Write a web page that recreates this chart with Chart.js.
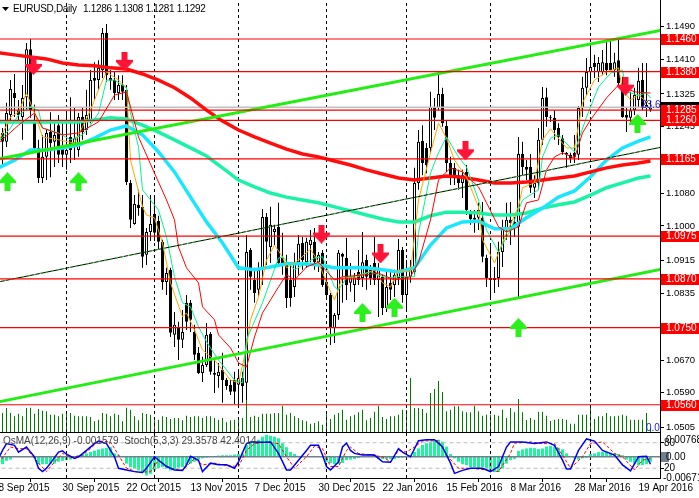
<!DOCTYPE html>
<html>
<head>
<meta charset="utf-8">
<title>EURUSD Daily</title>
<script src="https://cdn.jsdelivr.net/npm/chart.js@4/dist/chart.umd.js"></script>
<style>
  html, body { margin: 0; padding: 0; background: #fff; overflow: hidden; width: 699px; height: 498px; }
  canvas { position: absolute; left: -4px; }
  #mainChart { top: 0; }
  #oscChart { top: 432px; }
</style>
</head>
<body>
<canvas id="mainChart" width="703" height="432"></canvas>
<canvas id="oscChart" width="703" height="66"></canvas>
<script>
// candles, one per bar
const opens = [1.1285,1.1229,1.1207,1.1273,1.1327,1.1285,1.1268,1.1317,1.1435,1.1261,1.1192,1.1118,1.1170,1.1231,1.1207,1.1248,1.1192,1.1175,1.1219,1.1194,
  1.1187,1.1268,1.1236,1.1261,1.1364,1.1359,1.1384,1.1475,1.1364,1.1359,1.1327,1.1347,1.1335,1.1106,1.1005,1.1052,1.1047,1.0929,1.0985,1.1030,
  1.1012,1.0961,1.0862,1.0892,1.0732,1.0749,1.0720,1.0811,1.0811,1.0739,1.0688,1.0638,1.0658,1.0734,1.0638,1.0631,1.0646,1.0621,1.0609,1.0621,
  1.0609,1.0626,1.0614,1.0941,1.0867,1.0843,1.0892,1.1022,1.0948,1.0985,1.0998,1.0921,1.0911,1.0867,1.0850,1.0911,1.0958,1.0911,1.0953,1.0961,
  1.0911,1.0934,1.0862,1.0830,1.0749,1.0781,1.0931,1.0921,1.0860,1.0855,1.0887,1.0872,1.0916,1.0892,1.0909,1.0867,1.0875,1.0798,1.0860,1.0855,
  1.0872,1.0941,1.0830,1.0875,1.0887,1.1106,1.1209,1.1192,1.1192,1.1293,1.1290,1.1325,1.1246,1.1155,1.1143,1.1125,1.1106,1.1133,1.1032,1.1020,
  1.1020,1.1020,1.0921,1.0872,1.0872,1.0872,1.0936,1.0995,1.1015,1.1010,1.0998,1.1177,1.1145,1.1145,1.1094,1.1106,1.1212,1.1317,1.1268,1.1266,
  1.1241,1.1216,1.1180,1.1175,1.1180,1.1175,1.1290,1.1340,1.1379,1.1401,1.1379,1.1379,1.1401,1.1401,1.1384,1.1408,1.1352,1.1273,1.1266,1.1285,
  1.1310,1.1359,1.1298,1.1286];
const highs = [1.1310,1.1241,1.1303,1.1359,1.1374,1.1310,1.1347,1.1450,1.1460,1.1298,1.1212,1.1224,1.1236,1.1280,1.1253,1.1273,1.1253,1.1278,1.1317,1.1290,
  1.1278,1.1293,1.1335,1.1384,1.1403,1.1408,1.1487,1.1497,1.1384,1.1379,1.1371,1.1371,1.1347,1.1113,1.1076,1.1089,1.1076,1.0995,1.1076,1.1076,
  1.1025,1.0966,1.0897,1.0897,1.0788,1.0764,1.0793,1.0830,1.0818,1.0757,1.0702,1.0678,1.0761,1.0739,1.0670,1.0663,1.0688,1.0626,1.0621,1.0641,
  1.0646,1.0641,1.0978,1.0946,1.0897,1.0911,1.1042,1.1032,1.1047,1.1003,1.1057,1.0983,1.0929,1.0911,1.0934,1.0978,1.0973,1.0971,1.0990,1.0995,
  1.0936,1.0941,1.0880,1.0835,1.0786,1.0941,1.0934,1.0971,1.0909,1.0884,1.0941,1.0985,1.0929,1.0904,1.0973,1.0909,1.0880,1.0892,1.0887,1.0892,
  1.0968,1.0948,1.0916,1.0916,1.1143,1.1236,1.1248,1.1204,1.1330,1.1315,1.1376,1.1340,1.1261,1.1170,1.1155,1.1138,1.1138,1.1150,1.1039,1.1039,
  1.1057,1.1059,1.0929,1.0958,1.0899,1.0961,1.1015,1.1057,1.1059,1.1022,1.1219,1.1207,1.1162,1.1177,1.1125,1.1241,1.1342,1.1340,1.1273,1.1285,
  1.1253,1.1224,1.1182,1.1180,1.1224,1.1295,1.1367,1.1413,1.1438,1.1421,1.1416,1.1433,1.1458,1.1458,1.1426,1.1463,1.1367,1.1290,1.1330,1.1340,
  1.1389,1.1401,1.1401,1.1308];
const lows = [1.1212,1.1145,1.1194,1.1253,1.1268,1.1253,1.1212,1.1285,1.1266,1.1182,1.1106,1.1106,1.1113,1.1120,1.1145,1.1155,1.1145,1.1138,1.1155,1.1162,
  1.1170,1.1212,1.1224,1.1253,1.1310,1.1335,1.1364,1.1354,1.1335,1.1310,1.1310,1.1310,1.1101,1.0995,1.1003,1.1025,1.0897,1.0904,1.0963,1.0963,
  1.0941,1.0843,1.0830,1.0727,1.0702,1.0670,1.0700,1.0744,1.0739,1.0670,1.0636,1.0616,1.0653,1.0634,1.0589,1.0602,1.0565,1.0597,1.0584,1.0562,
  1.0560,1.0565,1.0572,1.0843,1.0811,1.0828,1.0855,1.0904,1.0909,1.0953,1.0899,1.0880,1.0798,1.0801,1.0825,1.0880,1.0892,1.0897,1.0911,1.0892,
  1.0887,1.0850,1.0818,1.0707,1.0712,1.0769,1.0811,1.0818,1.0838,1.0813,1.0855,1.0850,1.0843,1.0855,1.0855,1.0776,1.0781,1.0788,1.0818,1.0825,
  1.0855,1.0811,1.0793,1.0860,1.0880,1.1089,1.1125,1.1130,1.1180,1.1236,1.1285,1.1244,1.1133,1.1101,1.1101,1.1089,1.1069,1.1027,1.1003,1.0983,
  1.0990,1.0911,1.0850,1.0825,1.0835,1.0850,1.0899,1.0966,1.0953,1.0973,1.0823,1.1125,1.1113,1.1081,1.1069,1.1089,1.1199,1.1244,1.1256,1.1212,
  1.1199,1.1175,1.1143,1.1155,1.1155,1.1162,1.1268,1.1322,1.1352,1.1364,1.1354,1.1371,1.1371,1.1379,1.1367,1.1347,1.1266,1.1231,1.1256,1.1273,
  1.1290,1.1285,1.1268,1.1281];
const closes = [1.1229,1.1207,1.1278,1.1337,1.1315,1.1273,1.1315,1.1435,1.1285,1.1192,1.1118,1.1170,1.1229,1.1204,1.1224,1.1175,1.1175,1.1187,1.1187,1.1216,
  1.1268,1.1231,1.1273,1.1359,1.1357,1.1389,1.1475,1.1371,1.1357,1.1327,1.1347,1.1330,1.1108,1.1015,1.1054,1.1044,1.0924,1.0985,1.1005,1.0983,
  1.0961,1.0862,1.0884,1.0737,1.0757,1.0720,1.0739,1.0764,1.0769,1.0683,1.0638,1.0658,1.0732,1.0641,1.0634,1.0641,1.0621,1.0606,1.0592,1.0592,
  1.0626,1.0606,1.0936,1.0875,1.0835,1.0892,1.1022,1.0961,1.1003,1.0993,1.0909,1.0909,1.0823,1.0823,1.0911,1.0956,1.0916,1.0961,1.0966,1.0911,
  1.0929,1.0855,1.0830,1.0749,1.0781,1.0934,1.0924,1.0855,1.0875,1.0875,1.0867,1.0911,1.0875,1.0872,1.0867,1.0892,1.0798,1.0850,1.0843,1.0880,
  1.0941,1.0830,1.0875,1.0897,1.1106,1.1207,1.1155,1.1150,1.1293,1.1266,1.1325,1.1253,1.1155,1.1125,1.1125,1.1106,1.1125,1.1039,1.1017,1.1015,
  1.1039,1.0924,1.0872,1.0867,1.0867,1.0936,1.0995,1.1015,1.1007,1.0998,1.1177,1.1145,1.1138,1.1094,1.1106,1.1212,1.1315,1.1268,1.1266,1.1236,
  1.1219,1.1182,1.1175,1.1167,1.1170,1.1290,1.1340,1.1379,1.1391,1.1391,1.1401,1.1403,1.1384,1.1384,1.1403,1.1352,1.1268,1.1266,1.1285,1.1322,
  1.1357,1.1290,1.1290,1.1292];
// tick volume, bottom of the main pane
const volumes = [170,190,240,190,157,183,157,240,243,183,230,213,207,173,173,157,183,183,190,163,
  157,157,157,150,107,123,190,183,157,183,173,107,243,223,157,117,190,180,173,117,
  123,157,150,130,140,140,117,163,150,157,157,140,157,157,140,123,140,97,117,123,
  130,140,340,150,163,150,183,183,183,190,190,263,173,190,157,140,117,107,83,90,
  107,73,183,130,173,190,223,123,157,173,197,223,117,140,203,263,150,130,157,157,
  173,223,220,540,240,240,230,190,390,430,510,400,207,223,257,257,207,197,197,263,
  207,163,173,173,173,163,223,140,240,197,330,197,120,140,123,203,203,163,110,123,
  130,130,123,83,83,173,173,173,250,130,157,157,190,157,157,163,173,163,123,123,
  123,123,190,40];

// moving averages read every 4 bars, last one at the final bar
const slowBars = [0,4,8,12,16,20,24,28,32,36,40,44,48,52,56,60,64,68,72,76,80,84,88,92,96,100,104,108,112,116,120,124,128,132,136,140,144,148,152,156,160,163];
const ma200 = [1.1426,1.1421,1.1416,1.1411,1.1401,1.1396,1.1394,1.1389,1.1386,1.1374,1.1359,1.1340,1.1315,1.1285,1.1258,1.1236,1.1219,1.1204,1.1189,1.1177,1.1170,
  1.1160,1.1150,1.1138,1.1128,1.1118,1.1113,1.1118,1.1123,1.1120,1.1113,1.1106,1.1106,1.1108,1.1113,1.1118,1.1123,1.1133,1.1143,1.1150,1.1155,1.1160];
const ma144 = [1.1256,1.1256,1.1256,1.1256,1.1256,1.1256,1.1261,1.1266,1.1263,1.1248,1.1231,1.1212,1.1192,1.1172,1.1143,1.1113,1.1096,1.1081,1.1071,1.1064,1.1057,
  1.1047,1.1037,1.1027,1.1017,1.1010,1.1010,1.1025,1.1034,1.1034,1.1032,1.1027,1.1027,1.1032,1.1044,1.1052,1.1059,1.1076,1.1094,1.1106,1.1118,1.1123];
const ma55 = [1.1143,1.1162,1.1187,1.1187,1.1192,1.1199,1.1216,1.1236,1.1246,1.1224,1.1182,1.1133,1.1071,1.1010,1.0958,1.0897,1.0892,1.0899,1.0907,1.0907,1.0904,
  1.0897,1.0897,1.0897,1.0892,1.0887,1.0897,1.0953,1.0995,1.1010,1.1012,1.0993,1.0993,1.1020,1.1044,1.1071,1.1086,1.1121,1.1162,1.1192,1.1209,1.1219];

const fastBars = [0,3,5,7,9,11,15,19,21,23,25,27,30,32,33,36,37,39,41,43,46,47,49,51,54,58,60,62,63,65,67,69,71,72,75,78,80,82,84,86,89,94,96,98,100,103,105,108,110,112,114,117,120,121,124,127,130,131,134,136,138,142,144,146,149,152,155,156,158,160,163];
const ma5 = [1.1207,1.1268,1.1280,1.1327,1.1278,1.1219,1.1212,1.1204,1.1244,1.1285,1.1335,1.1379,1.1359,1.1340,1.1162,1.1047,1.1027,1.1020,1.0958,1.0860,1.0776,1.0786,1.0744,1.0695,1.0670,1.0621,1.0614,1.0702,1.0769,1.0825,1.0916,1.0953,1.0924,1.0897,1.0916,1.0943,1.0911,1.0860,1.0818,1.0875,1.0872,1.0892,1.0860,1.0850,1.0892,1.0887,1.1064,1.1180,1.1253,1.1216,1.1162,1.1120,1.1047,1.0966,1.0909,1.0983,1.1047,1.1094,1.1106,1.1212,1.1239,1.1192,1.1192,1.1303,1.1359,1.1379,1.1389,1.1335,1.1310,1.1322,1.1298];
const midBars = [0,3,5,8,10,11,15,18,21,23,25,27,29,32,33,35,36,38,40,42,44,46,48,50,52,55,59,61,62,66,70,71,74,79,81,84,85,87,93,97,100,104,105,108,110,112,115,117,120,122,125,128,131,135,136,138,140,144,147,150,153,156,157,160,162,163];
const ma10 = [1.1207,1.1241,1.1273,1.1293,1.1285,1.1241,1.1229,1.1212,1.1224,1.1248,1.1278,1.1359,1.1359,1.1340,1.1278,1.1194,1.1089,1.1064,1.1039,1.0973,1.0875,1.0811,1.0801,1.0752,1.0715,1.0670,1.0621,1.0614,1.0720,1.0811,1.0921,1.0924,1.0892,1.0921,1.0924,1.0850,1.0843,1.0872,1.0887,1.0872,1.0875,1.0875,1.0983,1.1130,1.1180,1.1219,1.1170,1.1145,1.1064,1.0990,1.0936,1.0990,1.1064,1.1089,1.1170,1.1216,1.1224,1.1182,1.1268,1.1342,1.1376,1.1384,1.1330,1.1322,1.1327,1.1315];
const redBars = [0,5,9,11,16,20,25,29,32,33,35,39,42,44,45,47,50,51,54,55,58,60,62,64,66,70,72,74,77,80,84,86,92,95,99,103,105,108,110,113,116,120,122,125,127,130,132,135,137,139,141,144,146,148,152,155,159,163];
const ma20 = [1.1204,1.1248,1.1278,1.1241,1.1224,1.1229,1.1256,1.1322,1.1330,1.1293,1.1219,1.1130,1.1064,1.1015,1.0948,1.0897,1.0860,1.0801,1.0769,1.0732,1.0700,1.0663,1.0653,1.0727,1.0786,1.0850,1.0880,1.0867,1.0899,1.0911,1.0867,1.0875,1.0880,1.0884,1.0867,1.0875,1.0911,1.1015,1.1113,1.1143,1.1133,1.1096,1.1057,1.0998,1.0985,1.0998,1.1057,1.1064,1.1138,1.1170,1.1180,1.1167,1.1229,1.1261,1.1315,1.1347,1.1330,1.1327];

// channel lines, first and last bar
const trendEnds = [0, 166];
const trendUpper = [1.11649, 1.14822];
const trendMiddle = [1.08623, 1.11944];
const trendLower = [1.05671, 1.08943];

const levels = [1.1460, 1.1380, 1.1285, 1.1260, 1.1165, 1.0975, 1.0870, 1.0750, 1.0560];
const lastPrice = 1.1292;
const priceTicks = [1.1490, 1.1410, 1.1325, 1.1245, 1.1165, 1.1080, 1.1000, 1.0915, 1.0835, 1.0750, 1.0670, 1.0590, 1.0505];

const sellBars = [8.75, 31.5, 80.75, 95.5, 116.75, 156.75];
const sellPrices = [1.1395, 1.1405, 1.0980, 1.0931, 1.1185, 1.1344];
const buyBars = [2.25, 20, 91, 99, 130, 159.75];
const buyPrices = [1.1109, 1.1109, 1.0787, 1.0800, 1.0750, 1.1252];

const monthBars = [17, 39, 60, 82, 102, 123, 148];
const dateBars = [0, 16, 32, 48, 64, 80, 96, 112, 128, 144, 160];
const dateLabels = ['8 Sep 2015', '30 Sep 2015', '22 Oct 2015', '13 Nov 2015', '7 Dec 2015', '30 Dec 2015', '22 Jan 2016', '15 Feb 2016', '8 Mar 2016', '28 Mar 2016', '19 Apr 2016'];

// lower pane
const osma = [-.0027,-.0024,-.0013,-.0009,0,0,0,0,0,-.0005,-.0024,-.0024,-.0024,-.0022,-.0022,-.0016,-.0013,-.0011,-.0009,0,
  .0005,.0009,.0011,.0016,.0020,.0024,.0027,.0029,.0031,.0011,.0005,0,-.0022,-.0033,-.0038,-.0044,-.0049,-.0060,-.0055,-.0044,
  -.0036,-.0033,-.0038,-.0044,-.0041,-.0035,-.0033,-.0027,-.0022,-.0016,-.0009,-.0005,-.0003,0,.0002,.0004,.0005,.0005,.0005,.0007,
  .0009,.0011,.0038,.0046,.0049,.0055,.0065,.0071,.0068,.0065,.0060,.0044,.0031,.0016,.0009,.0003,.0003,0,0,0,
  0,0,-.0016,-.0020,-.0024,-.0024,-.0020,-.0011,-.0009,-.0007,-.0004,.0002,.0003,.0002,.0001,-.0007,-.0007,-.0007,-.0007,-.0007,
  -.0004,-.0003,0,.0005,.0016,.0027,.0038,.0044,.0049,.0052,.0055,.0049,.0033,.0009,-.0005,-.0016,-.0024,-.0027,-.0033,-.0033,
  -.0035,-.0033,-.0038,-.0046,-.0049,-.0049,-.0038,-.0022,-.0011,-.0007,.0019,.0024,.0027,.0029,.0028,.0025,.0027,.0033,.0035,.0033,
  .0029,.0024,.0011,0,-.0005,-.0009,-.0005,-.0003,.0009,.0011,.0015,.0016,.0016,.0013,.0011,.0009,.0005,-.0009,-.0016,-.0022,
  -.0027,-.0027,-.0024,-.0016];
const stochBars = [0,1,2,4,5,7,8,9,10,11,12,13,15,16,17,19,20,22,24,25,27,29,30,32,34,36,37,39,40,42,44,46,47,48,50,51,53,55,57,59,60,62,63,66,68,70,72,73,75,77,78,80,81,82,83,85,86,87,88,89,91,93,94,96,98,100,101,103,105,107,109,111,113,114,116,118,121,123,125,127,128,131,134,137,139,141,142,143,145,147,149,151,154,156,158,160,162,163];
const stochMain = [43,62,78,74,58,70,58,47,20,12,20,32,58,61,53,43,47,62,78,84,78,47,20,16,12,10,20,47,39,24,16,15,28,48,39,12,32,28,28,20,35,78,82,81,82,55,16,16,39,62,74,74,51,24,16,35,70,79,62,55,51,52,51,35,34,66,58,47,85,87,87,70,32,8,15,20,20,12,24,70,82,82,78,82,74,39,18,18,62,89,84,62,51,28,14,47,48,29.36];
const signalBars = [0,3,5,7,10,12,13,16,18,21,23,25,28,30,32,35,38,40,43,46,49,51,54,57,60,62,64,67,70,72,74,77,79,81,83,85,87,88,90,93,96,98,100,102,104,106,110,112,115,118,123,125,128,129,133,136,139,141,143,146,148,151,154,156,159,161,163];
const stochSignal = [32,70,66,66,32,12,24,55,45,51,66,84,82,51,20,10,12,39,20,15,43,28,32,26,24,62,78,81,78,47,20,47,72,66,24,24,62,70,55,51,47,35,62,58,70,84,85,51,20,20,15,12,55,79,82,78,78,51,20,47,78,82,55,47,16,39,42.4];
const stochLevels = [20, 80];
const osmaLabels = [0.00768, -0.00671];

const fontFamily = '"Liberation Sans", Arial, sans-serif';
const axisFont = '10px ' + fontFamily;

// [x,y] pairs for a line dataset
const pairs = (xs, ys) => xs.map((x, i) => ({ x: x, y: ys[i] }));

function lineSet(xs, ys, color, width, order, extra) {
  return Object.assign({
    type: 'line', data: pairs(xs, ys), borderColor: color, borderWidth: width,
    pointRadius: 0, tension: 0, order: order, fill: false, spanGaps: true
  }, extra || {});
}

function arrowImage(color, down) {
  const c = document.createElement('canvas');
  c.width = 17; c.height = 19;
  const g = c.getContext('2d');
  const pts = [[5.5,0],[11.5,0],[11.5,8],[17,8],[17,10],[8.5,19],[0,10],[0,8],[5.5,8]];
  g.fillStyle = color;
  g.beginPath();
  pts.forEach((p, i) => {
    const y = down ? p[1] : 19 - p[1];
    if (i == 0) g.moveTo(p[0], y); else g.lineTo(p[0], y);
  });
  g.closePath();
  g.fill();
  return c;
}

const xRange = { type: 'linear', min: -0.625, max: 165.375, offset: false };

const bars = opens.map((o, i) => i);
const mainDatasets = [];

// volume under everything
mainDatasets.push({ type: 'bar', yAxisID: 'yVol', data: pairs(bars, volumes), backgroundColor: '#007a00', barThickness: 1, grouped: false, order: 60, inflateAmount: 0 });

monthBars.forEach(b => {
  mainDatasets.push(lineSet([b, b], [1.0493, 1.1556], '#000', 1, 55, { borderDash: [3, 3] }));
});

mainDatasets.push({ type: 'bar', data: bars.map(i => ({ x: i, y: [lows[i], highs[i]] })), backgroundColor: '#000', barThickness: 1, grouped: false, order: 50, inflateAmount: 0, borderSkipped: false });
mainDatasets.push({
  type: 'bar', data: bars.map(i => ({ x: i, y: [opens[i], closes[i]] })),
  backgroundColor: bars.map(i => closes[i] >= opens[i] ? '#fff' : '#000'),
  borderColor: '#000', borderWidth: 1, borderSkipped: false, barThickness: 3, minBarLength: 1,
  grouped: false, order: 49, inflateAmount: 0
});

mainDatasets.push(lineSet([-1, 167], [lastPrice, lastPrice], '#c0c0c0', 1.5, 45));
mainDatasets.push(lineSet(slowBars, ma144, '#1af2a6', 3.5, 40));
mainDatasets.push(lineSet(slowBars, ma55, '#1ae6ff', 3.5, 39));
mainDatasets.push(lineSet(slowBars, ma200, '#ff0d0d', 3.5, 38));
mainDatasets.push(lineSet(fastBars, ma5, '#ffa500', 1, 32));
mainDatasets.push(lineSet(midBars, ma10, '#00f58c', 1, 31));
mainDatasets.push(lineSet(redBars, ma20, '#ff0000', 1, 30));
mainDatasets.push(lineSet(trendEnds, trendMiddle, '#000', 1, 28));
mainDatasets.push(lineSet(trendEnds, trendMiddle, '#22ee22', 1, 27, { borderDash: [2, 4] }));
mainDatasets.push(lineSet(trendEnds, trendUpper, '#22ee11', 3, 26));
mainDatasets.push(lineSet(trendEnds, trendLower, '#22ee11', 3, 25));
levels.forEach(l => {
  mainDatasets.push(lineSet([-1, 167], [l, l], '#ff0000', 1.2, 20));
});
mainDatasets.push({ type: 'scatter', data: pairs(sellBars, sellPrices), pointStyle: arrowImage('#ff1438', true), pointRadius: 9, showLine: false, order: 5 });
mainDatasets.push({ type: 'scatter', data: pairs(buyBars, buyPrices), pointStyle: arrowImage('#2cf01e', false), pointRadius: 9, showLine: false, order: 4 });

const mainTexts = {
  id: 'mainTexts',
  afterDraw(chart) {
    const g = chart.ctx;
    const y = chart.scales.y;
    const left = y.left + 1;
    const tag = (price, fill) => {
      const py = Math.round(y.getPixelForValue(price));
      g.fillStyle = fill;
      g.fillRect(left, py - 5, chart.width - left, 11);
      return py;
    };
    g.save();
    g.textBaseline = 'middle';
    g.font = axisFont;
    tag(lastPrice, '#000');
    levels.forEach(l => {
      const py = tag(l, '#ff0000');
      g.fillStyle = '#fff';
      g.textAlign = 'left';
      g.fillText(l.toFixed(4), left + 5, py + 0.5);
    });

    g.fillStyle = '#000';
    g.beginPath();
    g.moveTo(6, 7); g.lineTo(13, 7); g.lineTo(9.5, 11); g.closePath();
    g.fill();
    g.font = axisFont;
    g.letterSpacing = '-0.3px';
    g.fillText('EURUSD,Daily', 17, 9);
    g.fillText('1.1286 1.1308 1.1281 1.1292', 87, 9);
    g.letterSpacing = '0px';

    g.fillStyle = '#2020e0';
    g.font = axisFont;
    g.fillText('23.6', 645, 105);
    g.fillText('0.0', 650, 428);
    g.restore();
  }
};

new Chart(document.getElementById('mainChart'), {
  type: 'bar',
  data: { datasets: mainDatasets },
  plugins: [mainTexts],
  options: {
    responsive: false, animation: false, devicePixelRatio: 1,
    layout: { padding: 0, autoPadding: false },
    plugins: { legend: { display: false }, tooltip: { enabled: false } },
    scales: {
      x: Object.assign({ display: false }, xRange),
      y: {
        type: 'linear', position: 'right', min: 1.0493, max: 1.1556,
        afterFit: s => { s.width = 39; s.paddingTop = 0; s.paddingBottom = 0; },
        afterBuildTicks: s => { s.ticks = priceTicks.map(v => ({ value: v })); },
        grid: { drawOnChartArea: false, tickLength: 4, color: '#000' },
        border: { color: '#000' },
        ticks: { color: '#000', font: { family: fontFamily, size: 9.5 }, padding: 2, callback: v => v.toFixed(4) }
      },
      yVol: { type: 'linear', display: false, min: 0, max: 4320 }
    }
  }
});

// lower pane
const oscDatasets = [];
oscDatasets.push({ type: 'bar', yAxisID: 'yOsma', data: pairs(bars, osma), backgroundColor: '#1cf59a', barThickness: 3, grouped: false, order: 40, inflateAmount: 0 });
monthBars.forEach(b => {
  oscDatasets.push(lineSet([b, b], [-3, 103], '#000', 1, 35, { borderDash: [3, 3] }));
});
stochLevels.forEach(l => {
  oscDatasets.push(lineSet([-1, 167], [l, l], '#bbbbbb', 1, 30, { borderDash: [4, 3] }));
});
oscDatasets.push(lineSet([-1, 167], [0, 0], '#708090', 1.5, 29, { yAxisID: 'yOsma' }));
oscDatasets.push(lineSet(signalBars, stochSignal, '#ff0000', 1, 20, { borderDash: [3, 2] }));
oscDatasets.push(lineSet(stochBars, stochMain, '#0000ee', 1.5, 19));

const oscTexts = {
  id: 'oscTexts',
  afterDraw(chart) {
    const g = chart.ctx;
    const o = chart.scales.yOsma;
    const left = chart.scales.y.left;
    g.save();
    // pane separator
    g.fillStyle = '#000';
    g.fillRect(0, 0, left + 1, 1);
    g.textBaseline = 'middle';
    g.font = axisFont;
    g.fillText(osmaLabels[0].toFixed(5), left + 6, o.getPixelForValue(osmaLabels[0]) + 7);
    g.fillText(osmaLabels[1].toFixed(5), left + 3, o.getPixelForValue(osmaLabels[1]) + 1);
    const zero = Math.round(o.getPixelForValue(0));
    g.fillStyle = '#708090';
    g.fillRect(left + 1, zero - 5, 8, 10);
    g.fillStyle = '#000';
    g.fillText('0.00', left + 6, zero);
    g.fillStyle = '#444';
    g.fillText('OsMA(12,26,9) -0.001579  Stoch(5,3,3) 29.3578 42.4014', 7, 9);
    g.restore();
  }
};

new Chart(document.getElementById('oscChart'), {
  type: 'bar',
  data: { datasets: oscDatasets },
  plugins: [oscTexts],
  options: {
    responsive: false, animation: false, devicePixelRatio: 1,
    layout: { padding: { top: 1 }, autoPadding: false },
    plugins: { legend: { display: false }, tooltip: { enabled: false } },
    scales: {
      x: Object.assign({}, xRange, {
        afterBuildTicks: s => { s.ticks = dateBars.map(v => ({ value: v })); },
        afterFit: s => { s.height = 20; },
        grid: { drawOnChartArea: false, tickLength: 4, color: '#000' },
        border: { color: '#000' },
        ticks: {
          color: '#000', font: { family: fontFamily, size: 10 }, padding: 0, align: 'start', maxRotation: 0, autoSkip: false,
          callback: (v, i) => dateLabels[i]
        }
      }),
      y: {
        type: 'linear', position: 'right', min: -3, max: 103,
        afterFit: s => { s.width = 39; s.paddingTop = 0; s.paddingBottom = 0; },
        afterBuildTicks: s => { s.ticks = stochLevels.map(v => ({ value: v })); },
        grid: { drawOnChartArea: false, tickLength: 4, color: '#000' },
        border: { color: '#000' },
        ticks: { color: '#000', font: { family: fontFamily, size: 10 }, padding: 0 }
      },
      yOsma: { type: 'linear', display: false, min: -0.00685, max: 0.00768 }
    }
  }
});
</script>
</body>
</html>
